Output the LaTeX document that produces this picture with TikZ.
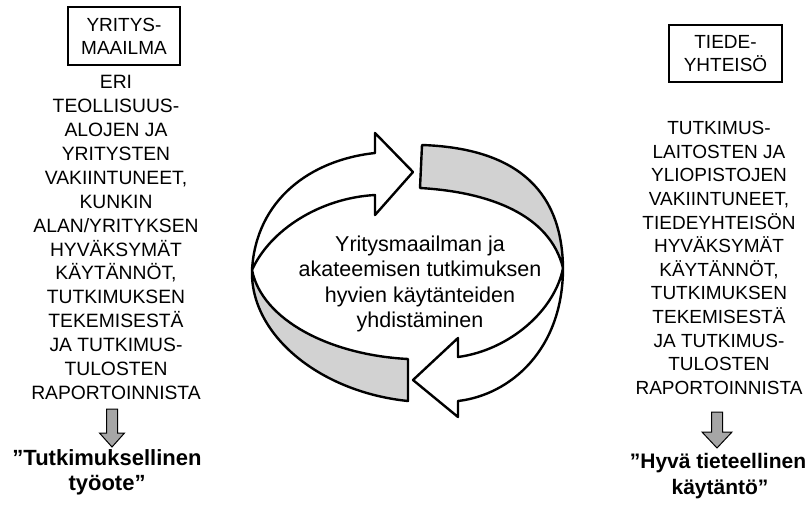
\documentclass[tikz,border=0pt]{standalone}
\usepackage{fontspec}
\setmainfont{Liberation Sans}
\begin{document}
\begin{tikzpicture}[x=1pt,y=-1pt,
  coltext/.style={align=center, font=\fontsize{19.3}{23.9}\selectfont, inner sep=0pt},
  titlebox/.style={draw, line width=1.1pt, align=center, font=\fontsize{19}{23}\selectfont, minimum width=112pt, minimum height=58pt, inner sep=0pt},
  result/.style={anchor=base, font=\bfseries\fontsize{21}{25}\selectfont, inner sep=0pt},
  centertext/.style={align=center, font=\fontsize{21.5}{25.5}\selectfont, inner sep=0pt},
  ribbon/.style={draw=black, line width=2.4pt, line join=round, fill=white},
  band/.style={ribbon, fill=gray!35},
  blockarrow/.style={draw=black, line width=1pt, fill=gray!70}]
\useasboundingbox (0,0) rectangle (806,504);
\fill[white] (0,0) rectangle (806,504);

% titles
\node[titlebox] (yb) at (124,36) {YRITYS-\\MAAILMA};
\node[titlebox, minimum width=113pt, minimum height=57pt] (tb) at (725.5,53.5) {TIEDE-\\YHTEISÖ};

% columns
\node[coltext] (yt) at (116,237.5) {ERI\\TEOLLISUUS-\\ALOJEN JA\\YRITYSTEN\\VAKIINTUNEET,\\KUNKIN\\ALAN/YRITYKSEN\\HYVÄKSYMÄT\\KÄYTÄNNÖT,\\TUTKIMUKSEN\\TEKEMISESTÄ\\JA TUTKIMUS-\\TULOSTEN\\RAPORTOINNISTA};
\node[coltext, font=\fontsize{19}{23.6}\selectfont] (tt) at (719,258) {TUTKIMUS-\\LAITOSTEN JA\\YLIOPISTOJEN\\VAKIINTUNEET,\\TIEDEYHTEISÖN\\HYVÄKSYMÄT\\KÄYTÄNNÖT,\\TUTKIMUKSEN\\TEKEMISESTÄ\\JA TUTKIMUS-\\TULOSTEN\\RAPORTOINNISTA};

% results
\node[result, font=\bfseries\fontsize{22}{25}\selectfont] (yr1) at (107,465) {”Tutkimuksellinen};
\node[result, font=\bfseries\fontsize{22}{25}\selectfont] (yr2) at (107,490) {työote”};
\node[result] (tr1) at (718,468) {”Hyvä tieteellinen};
\node[result] (tr2) at (720,494) {käytäntö”};

% block arrows
\draw[blockarrow] (106.5,409) -- (117.5,409) -- (117.5,433) -- (124.5,433) -- (112,447) -- (99.5,433) -- (106.5,433) -- cycle;
\draw[blockarrow] (711.5,412) -- (722.5,412) -- (722.5,432) -- (732,432) -- (717,448) -- (702,432) -- (711.5,432) -- cycle;

% cycle ribbon, piece A
\draw[band] (252,270) .. controls (262,320) and (330,355) .. (408,359) -- (408,401) .. controls (320,392) and (250,335) .. (252,270) -- cycle;
\draw[ribbon] (252,270) .. controls (256,200) and (310,160) .. (375,153) -- (375,133) -- (413,172) -- (375,215) -- (375,195) .. controls (320,198) and (270,230) .. (252,270) -- cycle;
% piece B
\draw[band] (422,145) .. controls (510,148) and (562,185) .. (563,268) .. controls (550,215) and (490,192) .. (420,188) -- cycle;
\draw[ribbon] (563,268) .. controls (563,350) and (510,395) .. (458,401) -- (458,417) -- (413,380) -- (458,338) -- (458,357) .. controls (510,350) and (555,310) .. (563,268) -- cycle;

\node[centertext] (ct) at (420,284) {Yritysmaailman ja\\akateemisen tutkimuksen\\hyvien käytänteiden\\yhdistäminen};
\end{tikzpicture}
\end{document}
